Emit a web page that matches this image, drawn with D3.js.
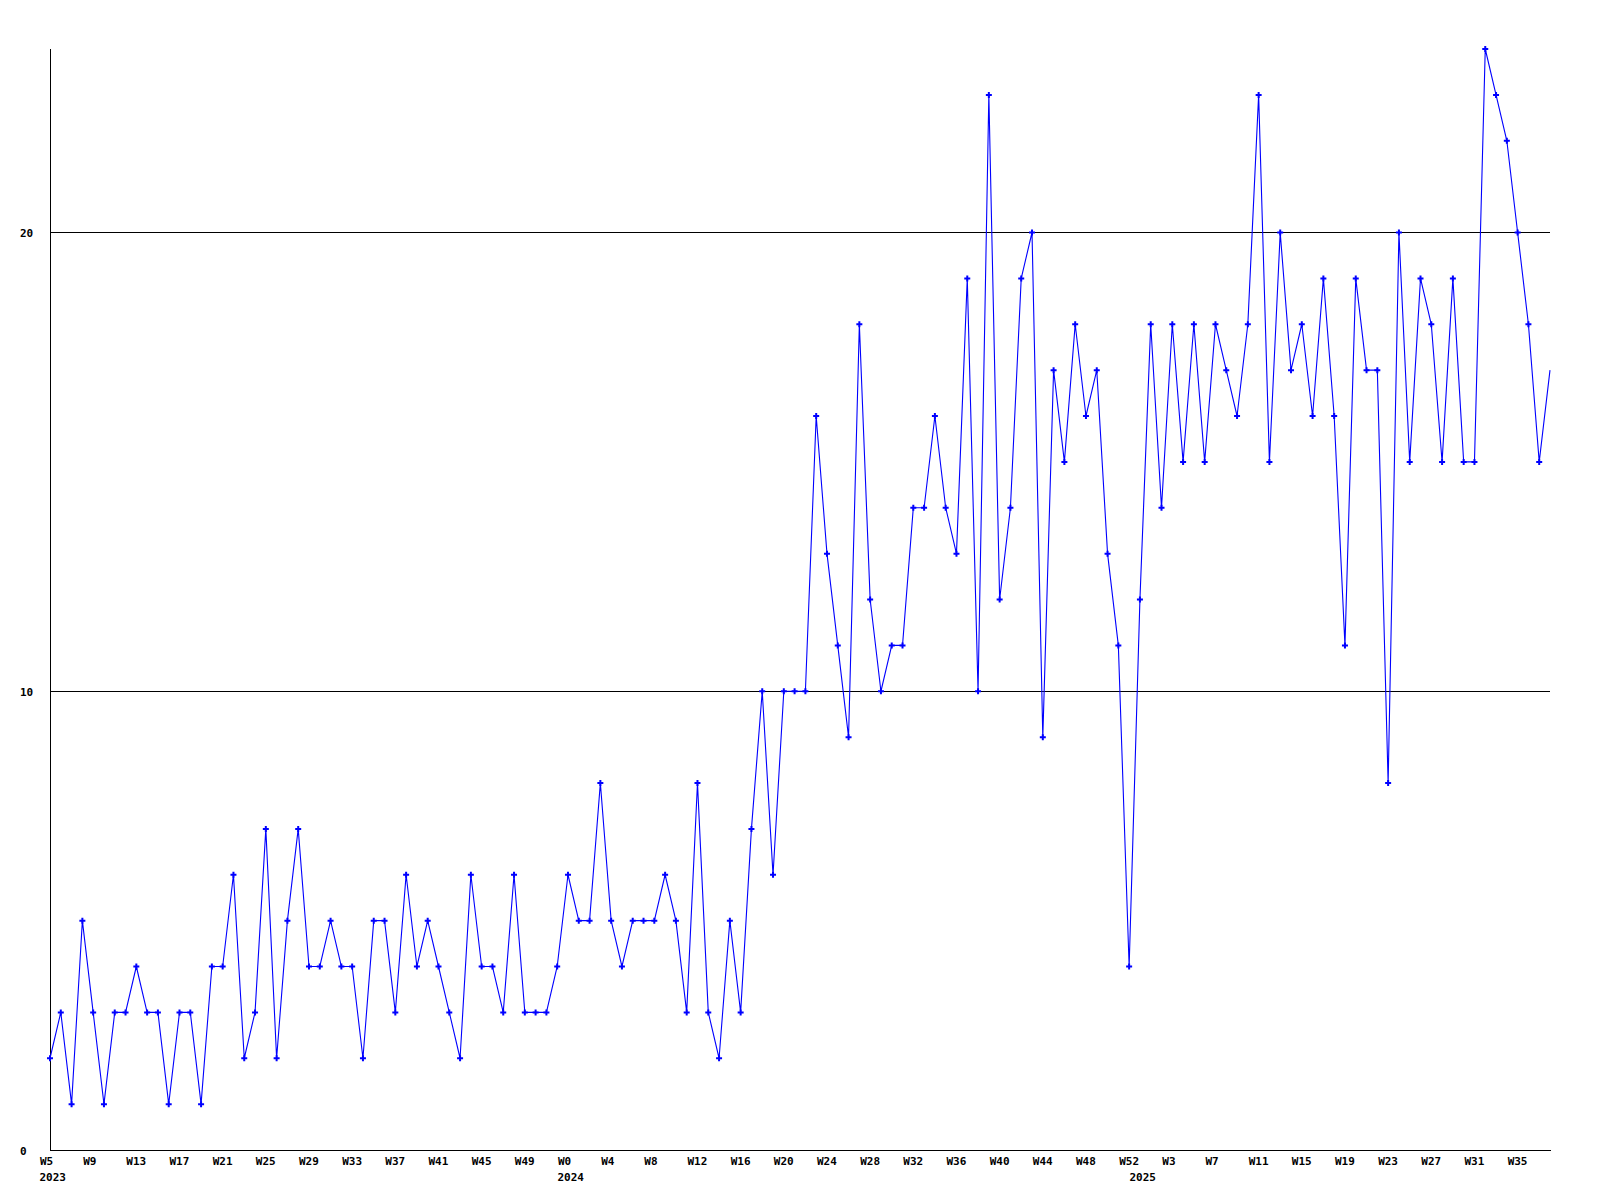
<!DOCTYPE html>
<html>
<head>
<meta charset="utf-8">
<script src="https://cdn.jsdelivr.net/npm/d3@7"></script>
<style>
  html, body { margin: 0; padding: 0; background: #ffffff; }
  svg { display: block; }
  text { font-family: "DejaVu Sans Mono", monospace; font-weight: bold; font-size: 11px; fill: #000; }
</style>
</head>
<body>
<script>
// ---- data (weekly counts) ----
const years = [2023, 2024, 2025];
const firstWeek = [5, 0, 0];
const values2023 = [2,3,1,5,3,1,3,3,4,3, 3,1,3,3,1,4,4,6,2,3, 7,2,5,7,4,4,5,4,4,2, 5,5,3,6,4,5,4,3,2,6, 4,4,3,6,3,3,3,4];
const values2024 = [6,5,5,8,5,4,5,5,5,6, 5,3,8,3,2,5,3,7,10,6, 10,10,10,16,13,11,9,18,12,10, 11,11,14,14,16,14,13,19,10,23, 12,14,19,20,9,17,15,18,16,17, 13,11,4];
const values2025 = [12,18,14,18,15,18,15,18,17,16, 18,23,15,20,17,18,16,19,16,11, 19,17,17,8,20,15,19,18,15,19, 15,15,24,23,22,20,18,15,17];
const yTicks = [0, 10, 20];
const yMax = 24;
const labelEvery = 4;

// build categories from the arrays
const seriesByYear = [values2023, values2024, values2025];
const points = [];
const yearStart = [];
seriesByYear.forEach((vals, yi) => {
  yearStart.push({ index: points.length, year: years[yi] });
  vals.forEach((v, k) => points.push({ label: "W" + (firstWeek[yi] + k), year: years[yi], value: v }));
});
points.forEach((p, i) => p.i = i);

// ---- layout ----
const W = 1600, H = 1200;
const mLeft = 50, mRight = 1550, mTop = 49, mBottom = 1150;
const blue = "#0000ff";

const svg = d3.select("body").append("svg").attr("width", W).attr("height", H);
svg.append("rect").attr("width", W).attr("height", H).attr("fill", "#fff");

const x = d3.scalePoint().domain(points.map(p => p.i)).range([mLeft, mRight]).padding(0);
const y = d3.scaleLinear().domain([0, yMax]).range([mBottom, mTop]);

// gridlines
svg.append("g").attr("shape-rendering", "crispEdges")
  .selectAll("line").data(yTicks.filter(t => t > 0)).join("line")
  .attr("x1", mLeft).attr("x2", mRight)
  .attr("y1", d => Math.round(y(d)) + 0.5).attr("y2", d => Math.round(y(d)) + 0.5)
  .attr("stroke", "#000").attr("stroke-width", 1);

// y axis
const yAxisG = svg.append("g").attr("transform", `translate(${mLeft},0)`)
  .call(d3.axisLeft(y).tickValues(yTicks).tickSize(0).tickFormat(d3.format("d")));
yAxisG.select(".domain").remove();
yAxisG.selectAll("text")
  .attr("x", 20 - mLeft).attr("dy", null).attr("y", 4)
  .attr("text-anchor", "start")
  .style("font-family", "'DejaVu Sans Mono', monospace").style("font-weight", "bold").style("font-size", "11px");
svg.append("line").attr("shape-rendering", "crispEdges")
  .attr("x1", mLeft + 0.5).attr("x2", mLeft + 0.5).attr("y1", y(yMax)).attr("y2", mBottom + 0.5)
  .attr("stroke", "#000");

// x axis
const xTickIdx = points.filter(p => p.i % labelEvery === 0).map(p => p.i);
const xAxisG = svg.append("g").attr("transform", `translate(0,${mBottom})`)
  .call(d3.axisBottom(x).tickValues(xTickIdx).tickSize(0).tickFormat(i => points[i].label));
xAxisG.select(".domain").remove();
xAxisG.selectAll("text")
  .attr("x", -10.5).attr("y", 15).attr("dy", null)
  .attr("text-anchor", "start")
  .style("font-family", "'DejaVu Sans Mono', monospace").style("font-weight", "bold").style("font-size", "11px");
svg.append("line").attr("shape-rendering", "crispEdges")
  .attr("x1", mLeft).attr("x2", mRight + 1).attr("y1", mBottom + 0.5).attr("y2", mBottom + 0.5)
  .attr("stroke", "#000");

// year labels
svg.append("g").selectAll("text").data(yearStart).join("text")
  .attr("x", d => x(d.index) - 10.5).attr("y", mBottom + 31)
  .attr("text-anchor", "start")
  .text(d => d.year);

// line
const line = d3.line().x(d => x(d.i)).y(d => y(d.value));
svg.append("path").datum(points)
  .attr("d", line).attr("fill", "none").attr("stroke", blue).attr("stroke-width", 1.1);

// markers
svg.append("g").selectAll("path").data(points.slice(0, points.length - 1)).join("path")
  .attr("transform", d => `translate(${x(d.i)},${y(d.value)})`)
  .attr("d", d3.symbol(d3.symbolCross, 20))
  .attr("fill", blue);
</script>
</body>
</html>
